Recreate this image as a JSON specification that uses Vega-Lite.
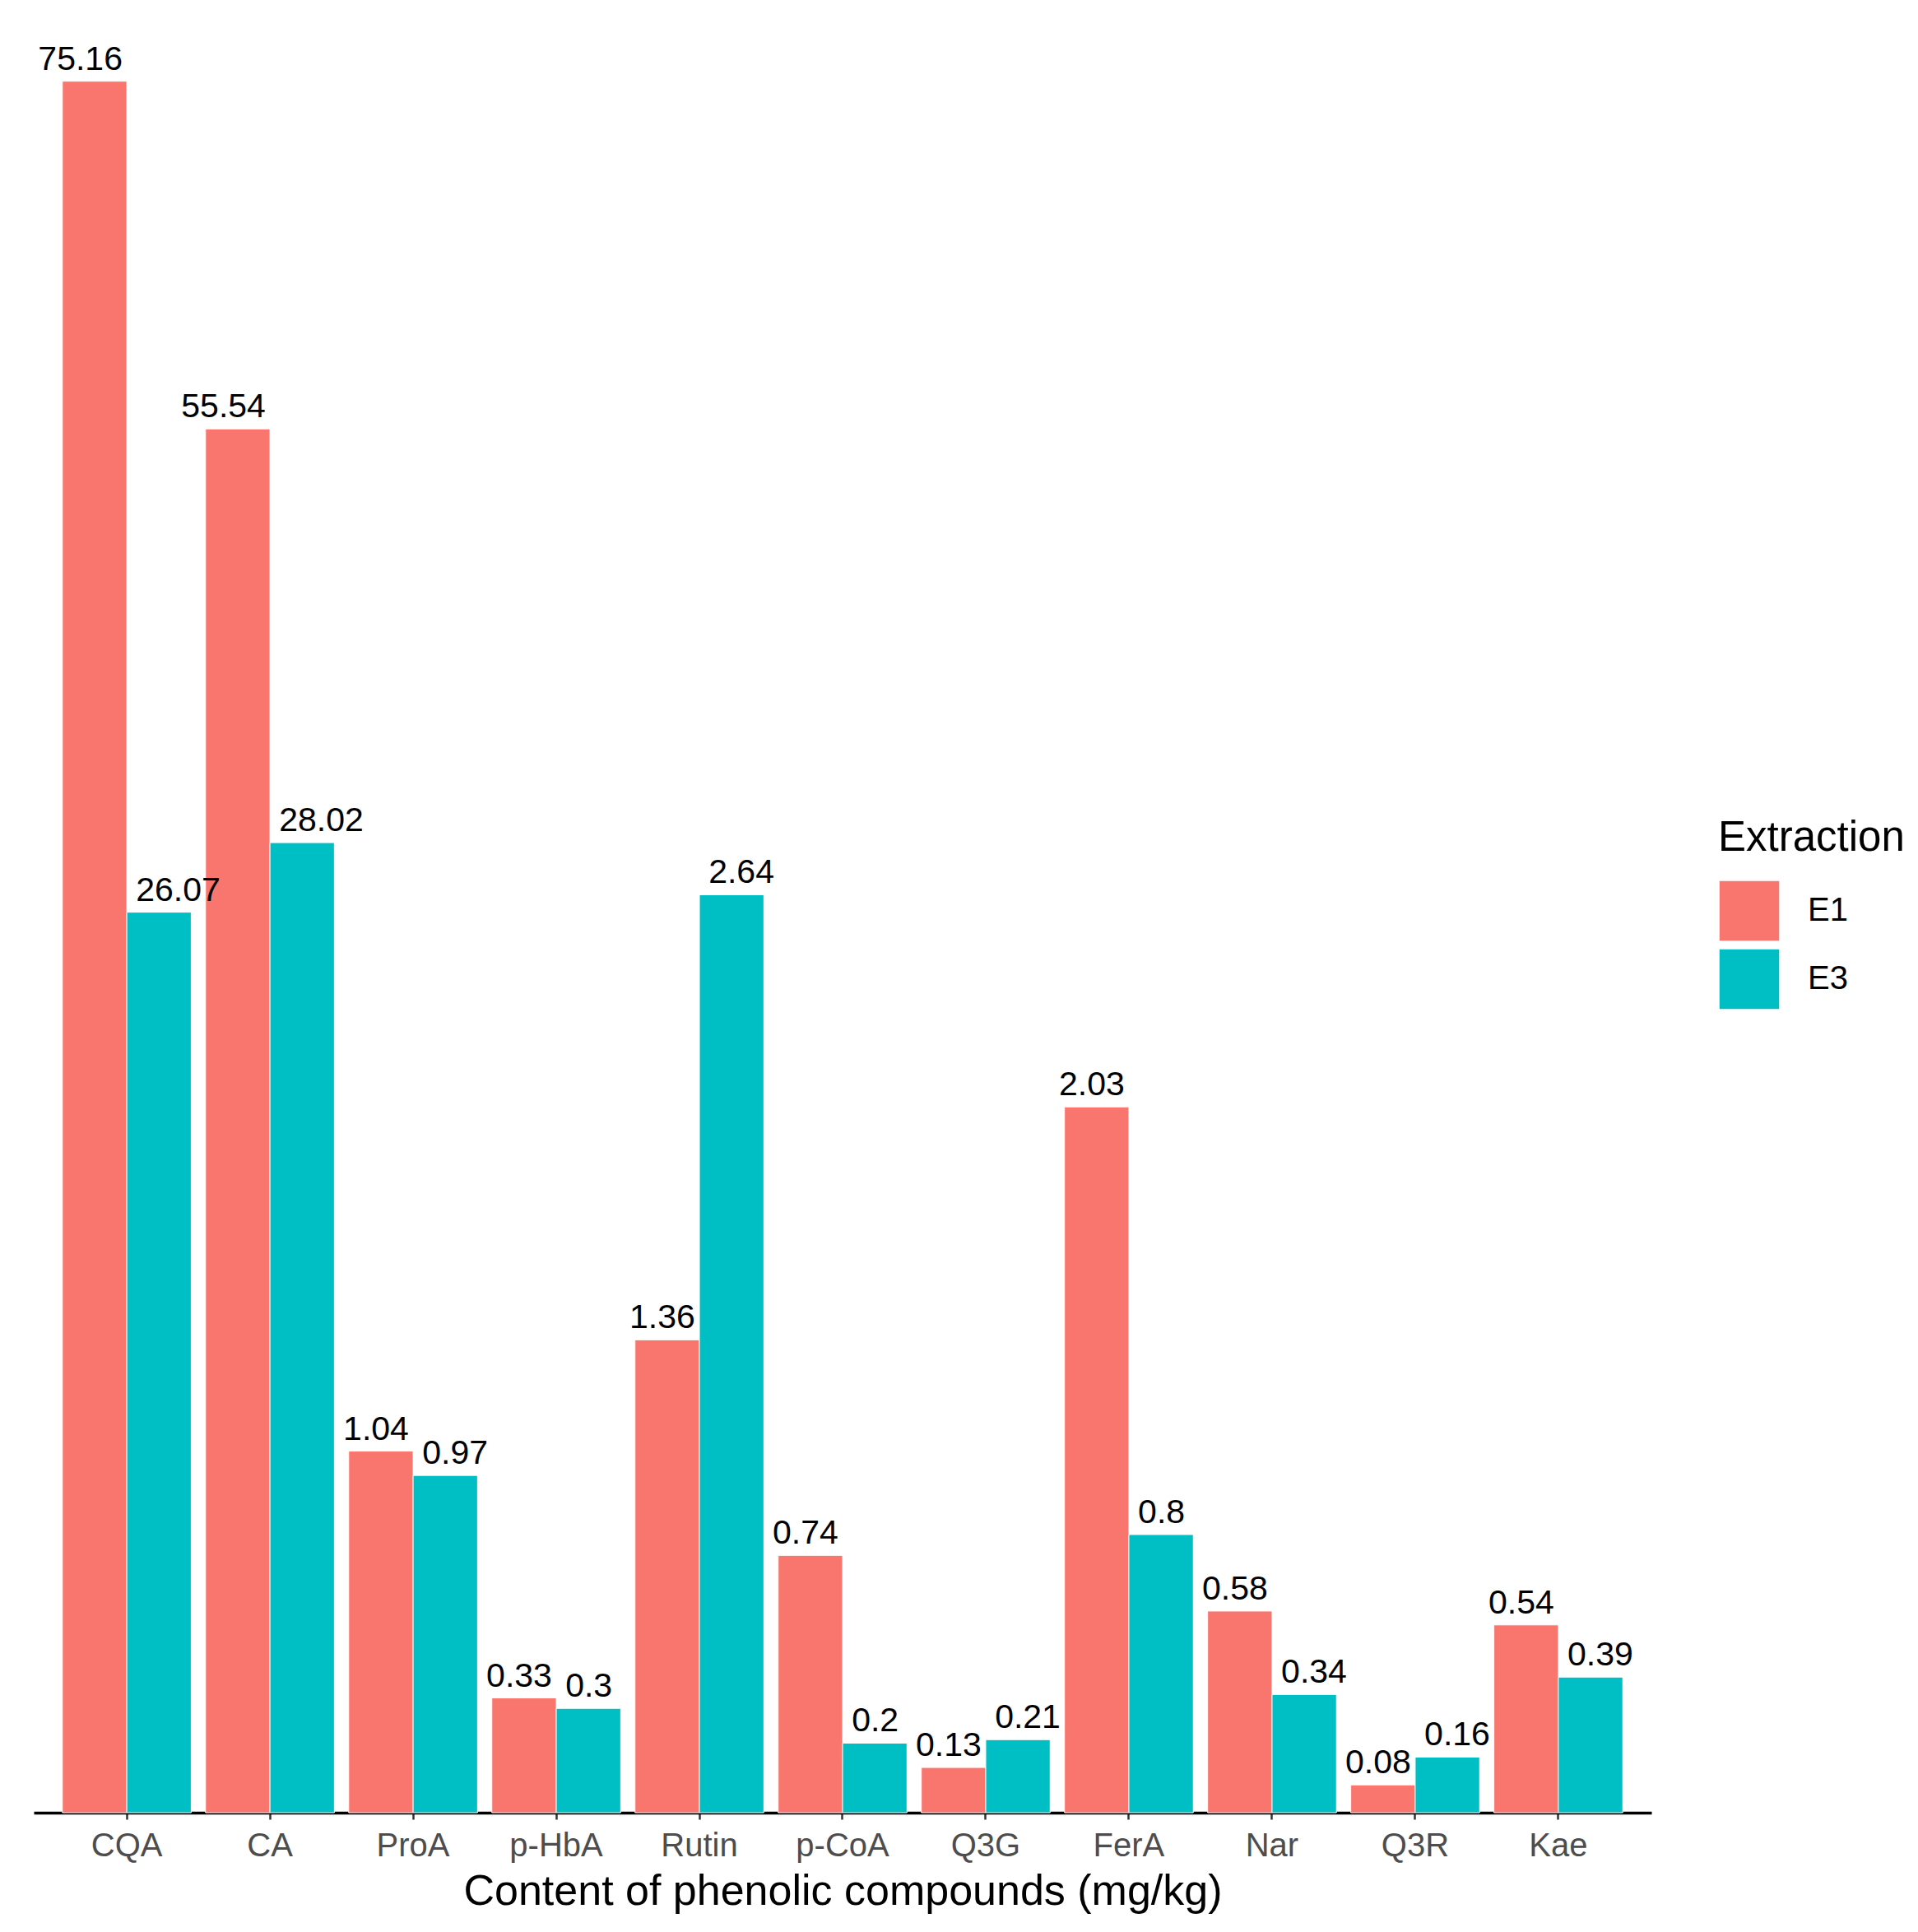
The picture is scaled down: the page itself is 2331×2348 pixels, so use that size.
{
  "$schema": "https://vega.github.io/schema/vega-lite/v6.json",
  "autosize": "none",
  "width": 1966,
  "height": 2193,
  "padding": {"left": 41, "top": 10, "right": 324, "bottom": 145},
  "background": "white",
  "config": {
    "view": {"stroke": null},
    "font": "Liberation Sans"
  },
  "data": {
    "values": [
      {"compound": "CQA", "extraction": "E1", "content": 4.98, "label": "75.16"},
      {"compound": "CQA", "extraction": "E3", "content": 2.59, "label": "26.07"},
      {"compound": "CA", "extraction": "E1", "content": 3.98, "label": "55.54"},
      {"compound": "CA", "extraction": "E3", "content": 2.79, "label": "28.02"},
      {"compound": "ProA", "extraction": "E1", "content": 1.04, "label": "1.04"},
      {"compound": "ProA", "extraction": "E3", "content": 0.97, "label": "0.97"},
      {"compound": "p-HbA", "extraction": "E1", "content": 0.33, "label": "0.33"},
      {"compound": "p-HbA", "extraction": "E3", "content": 0.3, "label": "0.3"},
      {"compound": "Rutin", "extraction": "E1", "content": 1.36, "label": "1.36"},
      {"compound": "Rutin", "extraction": "E3", "content": 2.64, "label": "2.64"},
      {"compound": "p-CoA", "extraction": "E1", "content": 0.74, "label": "0.74"},
      {"compound": "p-CoA", "extraction": "E3", "content": 0.2, "label": "0.2"},
      {"compound": "Q3G", "extraction": "E1", "content": 0.13, "label": "0.13"},
      {"compound": "Q3G", "extraction": "E3", "content": 0.21, "label": "0.21"},
      {"compound": "FerA", "extraction": "E1", "content": 2.03, "label": "2.03"},
      {"compound": "FerA", "extraction": "E3", "content": 0.8, "label": "0.8"},
      {"compound": "Nar", "extraction": "E1", "content": 0.58, "label": "0.58"},
      {"compound": "Nar", "extraction": "E3", "content": 0.34, "label": "0.34"},
      {"compound": "Q3R", "extraction": "E1", "content": 0.08, "label": "0.08"},
      {"compound": "Q3R", "extraction": "E3", "content": 0.16, "label": "0.16"},
      {"compound": "Kae", "extraction": "E1", "content": 0.54, "label": "0.54"},
      {"compound": "Kae", "extraction": "E3", "content": 0.39, "label": "0.39"}
    ]
  },
  "encoding": {
    "x": {
      "field": "compound",
      "type": "nominal",
      "sort": null,
      "scale": {"paddingInner": 0.1, "paddingOuter": 0.2},
      "axis": {
        "title": "Content of phenolic compounds (mg/kg)",
        "titleFont": "Liberation Sans",
        "titleFontSize": 52,
        "titleFontWeight": "normal",
        "titleColor": "black",
        "titlePadding": 10,
        "labelFont": "Liberation Sans",
        "labelFontSize": 40,
        "labelColor": "#4D4D4D",
        "labelAngle": 0,
        "labelPadding": 12,
        "tickSize": 8,
        "tickWidth": 2.5,
        "tickColor": "#333333",
        "domainColor": "black",
        "domainWidth": 3.5,
        "grid": false
      }
    },
    "xOffset": {"field": "extraction", "type": "nominal", "scale": {"paddingInner": 0, "paddingOuter": 0}},
    "y": {
      "field": "content",
      "type": "quantitative",
      "scale": {"domain": [0, 5.19], "nice": false, "zero": true},
      "axis": null
    }
  },
  "layer": [
    {
      "mark": {"type": "bar", "stroke": "white", "strokeWidth": 1},
      "encoding": {
        "color": {
          "field": "extraction",
          "type": "nominal",
          "scale": {"domain": ["E1", "E3"], "range": ["#F8766D", "#00BFC4"]},
          "legend": {
            "title": "Extraction",
            "orient": "none",
            "legendX": 2047,
            "legendY": 984,
            "titleFont": "Liberation Sans",
            "titleFontSize": 51,
            "titleFontWeight": "normal",
            "titleColor": "black",
            "titlePadding": 24,
            "titleLimit": 400,
            "labelFont": "Liberation Sans",
            "labelFontSize": 40,
            "labelColor": "black",
            "labelOffset": 33,
            "symbolType": "square",
            "symbolSize": 5476,
            "symbolStrokeColor": "white",
            "symbolStrokeWidth": 1.5,
            "symbolOpacity": 1,
            "rowPadding": 3,
            "padding": 0
          }
        }
      }
    },
    {
      "transform": [{"filter": "datum.extraction === 'E1'"}],
      "mark": {"type": "text", "align": "right", "baseline": "alphabetic", "dx": 34, "dy": -14, "fontSize": 41, "font": "Liberation Sans", "color": "black"},
      "encoding": {"text": {"field": "label", "type": "nominal"}}
    },
    {
      "transform": [{"filter": "datum.extraction === 'E3'"}],
      "mark": {"type": "text", "align": "left", "baseline": "alphabetic", "dx": -28, "dy": -14, "fontSize": 41, "font": "Liberation Sans", "color": "black"},
      "encoding": {"text": {"field": "label", "type": "nominal"}}
    }
  ]
}
